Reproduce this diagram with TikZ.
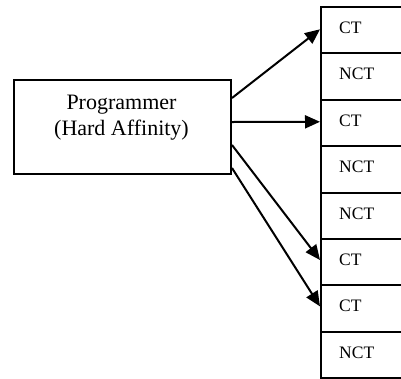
\documentclass[tikz,border=0pt]{standalone}
\usepackage{fontspec}
\setmainfont{Liberation Serif}
\usetikzlibrary{arrows.meta,calc}
\begin{document}
\begin{tikzpicture}[x=1pt,y=-1pt,
  boxline/.style={draw=black,line width=2pt},
  cellbox/.style={boxline,rectangle,minimum width=100pt,minimum height=46.4pt,anchor=north west,inner sep=0pt},
  celltext/.style={anchor=base west,inner sep=0pt,font=\fontsize{17.5pt}{20pt}\selectfont},
  conn/.style={line width=2pt,-{Triangle[length=15pt,width=13pt]}}]
\useasboundingbox (0,0) rectangle (401,378);
% programmer box
\node[boxline,rectangle,minimum width=217pt,minimum height=94pt,anchor=north west,inner sep=0pt] (P) at (13,79) {};
\node[anchor=base,align=center,inner sep=0pt,font=\fontsize{22pt}{26pt}\selectfont] (Pt) at (121.5,135.3) {Programmer\\(Hard Affinity)};
% cells
\node[cellbox] (c1) at (320,6) {};
\node[cellbox] (c2) at (320,52.4) {};
\node[cellbox] (c3) at (320,98.8) {};
\node[cellbox] (c4) at (320,145.2) {};
\node[cellbox] (c5) at (320,191.6) {};
\node[cellbox] (c6) at (320,238) {};
\node[cellbox] (c7) at (320,284.4) {};
\node[cellbox] (c8) at (320,330.8) {};
\node[celltext] (t1) at (339,33.4) {CT};
\node[celltext] (t2) at (339,79.8) {NCT};
\node[celltext] (t3) at (339,126.2) {CT};
\node[celltext] (t4) at (339,172.6) {NCT};
\node[celltext] (t5) at (339,219) {NCT};
\node[celltext] (t6) at (339,265.4) {CT};
\node[celltext] (t7) at (339,311.8) {CT};
\node[celltext] (t8) at (339,358.2) {NCT};
% start points
\coordinate (s1) at ($(P.north east)+(0,19)$);
\coordinate (s2) at ($(P.north east)+(0,43)$);
\coordinate (s3) at ($(P.north east)+(0,66)$);
\coordinate (s4) at ($(P.north east)+(0,89)$);
\coordinate (e1) at ($(c1.north west)+(0,23.3)$);
\coordinate (e2) at ($(c3.north west)+(0,23)$);
\coordinate (e3) at ($(c6.north west)+(0,22)$);
\coordinate (e4) at ($(c7.north west)+(0,22)$);
\draw[conn] (s1) -- (e1);
\draw[conn] (s2) -- (e2);
\draw[conn] (s3) -- (e3);
\draw[conn] (s4) -- (e4);
\end{tikzpicture}
\end{document}
